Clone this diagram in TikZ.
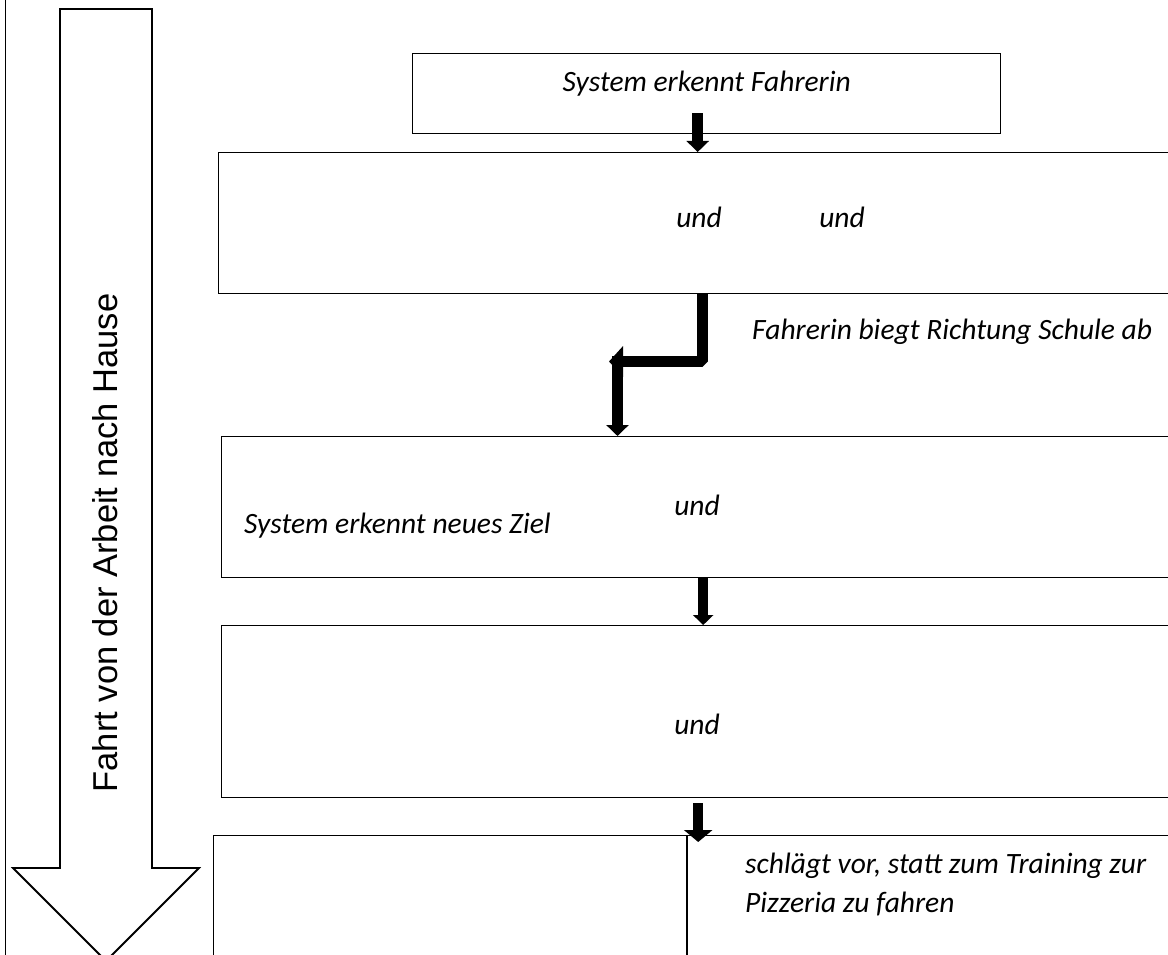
\documentclass[tikz,border=0pt]{standalone}
\usepackage{fontspec}
\setmainfont{Carlito}
\newfontfamily\arialfont{Liberation Sans}
\usetikzlibrary{arrows.meta}
\begin{document}
\begin{tikzpicture}[x=1pt,y=-1pt,
  box/.style={draw, line width=1.4pt, anchor=north west, inner sep=0pt},
  lbl/.style={font=\fontsize{29.5}{39}\selectfont\itshape, inner sep=0pt},
  blk/.style={line width=10.5pt, line join=bevel, -{Triangle[width=22pt,length=11pt]}},
  bigarrow/.style={draw, line width=1.8pt, line join=miter},
]
\useasboundingbox (0,0) rectangle (1168,955);
\clip (0,0) rectangle (1168,955);
% page border line
\draw[line width=1.5pt] (5.5,0) -- (5.5,955);
% big arrow
\draw[bigarrow] (60,9) -- (152,9) -- (152,868) -- (199,868) -- (106,961) -- (13,868) -- (60,868) -- cycle;
\node[font=\arialfont\fontsize{34.5}{40}\selectfont, rotate=90, inner sep=0pt] (lab) at (105,543) {Fahrt von der Arbeit nach Hause};
% boxes
\node[box, minimum width=588pt, minimum height=80pt] (b1) at (412,53) {};
\node[box, minimum width=962pt, minimum height=141pt] (b2) at (218,152) {};
\node[box, minimum width=959pt, minimum height=141pt] (b3) at (221,436) {};
\node[box, minimum width=959pt, minimum height=172pt] (b4) at (221,625) {};
\node[box, minimum width=967pt, minimum height=140pt] (b5) at (213,835) {};
\draw[line width=1.4pt] ([xshift=474pt]b5.north west) -- ([xshift=474pt]b5.south west);
% texts
\node[lbl] (t1) at ([yshift=10pt]b1.center) {System erkennt Fahrerin};
\node[lbl] (t2a) at (699,217) {und};
\node[lbl] (t2b) at (842,217) {und};
\node[lbl, anchor=west] (t2c) at (752,332) {Fahrerin biegt Richtung Schule ab};
\node[lbl] (t3a) at (697,505) {und};
\node[lbl, anchor=west] (t3b) at (244,526) {System erkennt neues Ziel};
\node[lbl] (t4a) at (697,724) {und};
\node[lbl, anchor=west, align=left] (t5) at (745,884.5) {schlägt vor, statt zum Training zur\\Pizzeria zu fahren};
% connectors
\coordinate (a1) at ([xshift=-9pt,yshift=21pt]b1.south);
\draw[blk] (a1) -- (a1 |- b2.north);
\coordinate (k1) at ([xshift=3pt]b2.south);
\coordinate (k2) at (609,361.5);
\draw[blk, line width=11.5pt, -{Triangle[width=30pt,length=14pt]}] (k1) |- (k2);
\coordinate (k3) at (617.5,356);
\draw[blk] (k3) -- (k3 |- b3.north);
\coordinate (a3) at ([xshift=2pt]b3.south);
\draw[blk, line width=9.5pt, -{Triangle[width=20pt,length=10pt]}] (a3) -- (a3 |- b4.north);
\coordinate (a4) at ([xshift=-3pt,yshift=-5pt]b4.south);
\coordinate (a5) at (a4 |- b5.north);
\draw[blk, -{Triangle[width=28pt,length=12pt]}] (a4) -- ([yshift=-7pt]a5);
\end{tikzpicture}
\end{document}
